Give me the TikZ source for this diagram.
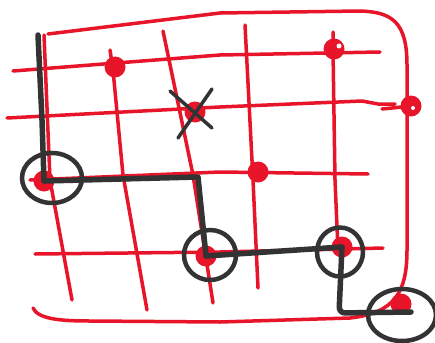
\documentclass[tikz,border=0pt]{standalone}
\usetikzlibrary{shapes.geometric}
\definecolor{pen}{HTML}{E8142A}
\definecolor{ink}{HTML}{333333}
\begin{document}
\begin{tikzpicture}[x=1pt,y=-1pt,
 redline/.style={draw=pen,line width=3.5pt,line cap=round,line join=round},
 inkline/.style={draw=ink,line width=5.5pt,line cap=round,line join=round},
 dot/.style={circle,fill=pen,minimum size=21pt,inner sep=0pt},
 hole/.style={circle,fill=white,minimum size=5pt,inner sep=0pt},
 ring/.style={ellipse,draw=ink,line width=4.5pt,inner sep=0pt}]
\useasboundingbox[fill=white] (0,0) rectangle (435,342);
% frame
\draw[redline] (33,308) .. controls (38,319) and (60,321) .. (90,321) -- (220,322) -- (350,318)
  .. controls (395,313) and (407,292) .. (407,250) -- (407,65)
  .. controls (407,22) and (392,12) .. (360,11) -- (220,13) -- (48,34);
% horizontal grid lines
\draw[redline] (13,71) -- (220,55) -- (380,52);
\draw[redline] (7,118) -- (220,107) -- (362,101) -- (378,104) -- (395,104);
\draw[redline] (382,109) -- (402,107);
\draw[redline] (30,180) -- (220,172) -- (368,174);
\draw[redline] (35,254) -- (220,252) -- (383,248);
% vertical grid lines
\draw[redline] (44,35) -- (50,180) -- (72,300);
\draw[redline] (110,50) -- (113,70) -- (123,175) -- (147,310);
\draw[redline] (163,31) -- (193,175) -- (213,303);
\draw[redline] (245,25) -- (253,180) -- (258,288);
\draw[redline] (333,32) -- (333,50) -- (335,180) -- (338,250);
% red dots
\node[dot] (d1) at (115,67) {};
\node[dot] (d2) at (195,112) {};
\node[dot] (d3) at (334,49) {};
\node[hole] at (339,46) {};
\node[dot] (d4) at (411,106) {};
\node[hole,minimum size=4pt] at (413,108) {};
\node[dot] (d5) at (258,172) {};
\node[dot] (d6) at (342,247) {};
\node[dot] (d7) at (206,256) {};
\node[dot] (d8) at (44,181) {};
\node[dot] (d9) at (401,304) {};
% cross on d2
\draw[ink,line width=3.5pt,line cap=round] (170,91) -- (212,128);
\draw[ink,line width=3.5pt,line cap=round] (212,89) -- (178,138);
% rings
\node[ring,minimum width=60pt,minimum height=50pt] (r1) at (52,178) {};
\node[ring,minimum width=52pt,minimum height=50pt] (r2) at (210,255) {};
\node[ring,minimum width=46pt,minimum height=49pt] (r3) at (340,252) {};
\node[ring,minimum width=68pt,minimum height=52pt] (r4) at (402,315) {};
% black path
\coordinate (start) at (38,35);
\coordinate (e1) at (198,177);
\coordinate (e2) at (339,313);
\coordinate (end) at (411,312);
\draw[inkline] (start) -- (42,120) -- (d8.center);
\draw[inkline] (d8.center) -- (e1) -- (d7.center);
\draw[inkline] (d7.center) -- (d6.center);
\draw[inkline,rounded corners=6pt] (d6.center) -- (e2) -- (end);
\end{tikzpicture}
\end{document}
